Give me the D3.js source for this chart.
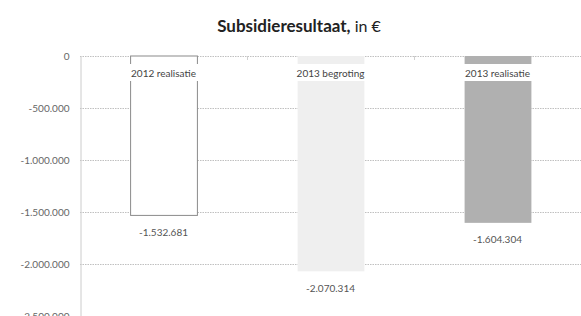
<!DOCTYPE html>
<html>
<head>
<meta charset="utf-8">
<script src="https://cdn.jsdelivr.net/npm/d3@7"></script>
<style>
  body { margin: 0; background: #fff; }
  svg { display: block; font-family: Lato, "Open Sans", sans-serif; }
</style>
</head>
<body>
<svg id="chart"></svg>
<script>
var categories = ['2012 realisatie', '2013 begroting', '2013 realisatie'];
var values = [-1532681, -2070314, -1604304];
var yTicks = [0, -500000, -1000000, -1500000, -2000000, -2500000];
var barColors = ['#ffffff', '#efefef', '#b0b0b0'];

var width = 581, height = 316;
var margin = {top: 56, left: 80, right: 0};
var svg = d3.select('#chart').attr('width', width).attr('height', height);

var fmt = function(v) {
  var s = d3.format(',')(Math.abs(v)).replace(/,/g, '.');
  return (v < 0 ? '-' : '') + s;
};

var x = d3.scaleBand().domain(categories)
  .range([margin.left, width - margin.right]).paddingInner(0.6).paddingOuter(0.3);
var y = d3.scaleLinear().domain([0, -2500000]).range([margin.top, margin.top + 260]);

// title
var title = svg.append('text').attr('x', 299).attr('y', 32)
  .attr('text-anchor', 'middle').attr('font-size', 17).attr('fill', '#222');
title.append('tspan').attr('font-weight', 'bold').text('Subsidieresultaat,');
title.append('tspan').attr('font-size', 16).text(' in €');

// gridlines
svg.append('g').selectAll('line').data(yTicks).enter().append('line')
  .attr('x1', margin.left).attr('x2', width)
  .attr('y1', function(d) { return y(d) + 0.5; })
  .attr('y2', function(d) { return y(d) + 0.5; })
  .attr('stroke', '#c0c0c0').attr('stroke-dasharray', '1.5,1');

// y axis
var yAxis = d3.axisLeft(y).tickValues(yTicks).tickSize(0).tickPadding(11).tickFormat(fmt);
var ga = svg.append('g').attr('transform', 'translate(' + (margin.left + 0.5) + ',0)').call(yAxis);
ga.select('.domain').attr('stroke', '#cccccc');
ga.selectAll('text').attr('font-family', 'Lato, sans-serif').attr('font-size', 10).attr('fill', '#666');

// category tick marks on zero line
svg.append('g').selectAll('line').data([1, 2]).enter().append('line')
  .attr('x1', function(d) { return margin.left + d * x.step() + 0.5; })
  .attr('x2', function(d) { return margin.left + d * x.step() + 0.5; })
  .attr('y1', y(0)).attr('y2', y(0) + 4).attr('stroke', '#d0d0d0');

// bars
svg.append('g').selectAll('rect').data(values).enter().append('rect')
  .attr('x', function(d, i) { return x(categories[i]) + 0.5; })
  .attr('y', y(0))
  .attr('width', x.bandwidth())
  .attr('height', function(d) { return y(d) - y(0); })
  .attr('fill', function(d, i) { return barColors[i]; })
  .attr('stroke', function(d, i) { return i === 0 ? '#8a8a8a' : 'none'; });

// category labels with white background
var cat = svg.append('g').selectAll('g').data(categories).enter().append('g')
  .attr('transform', function(d) { return 'translate(' + (x(d) + x.bandwidth() / 2) + ',' + 73 + ')'; });
cat.append('rect').attr('x', -37).attr('y', -9).attr('width', 74).attr('height', 17).attr('fill', '#fff');
cat.append('text').attr('text-anchor', 'middle').attr('dy', '0.35em')
  .attr('font-size', 10).attr('fill', '#444').text(function(d) { return d; });

// value labels
svg.append('g').selectAll('text').data(values).enter().append('text')
  .attr('x', function(d, i) { return x(categories[i]) + x.bandwidth() / 2; })
  .attr('y', function(d) { return y(d) + 17; })
  .attr('dy', '0.35em').attr('text-anchor', 'middle')
  .attr('font-size', 10).attr('fill', '#555')
  .text(fmt);
</script>
</body>
</html>
